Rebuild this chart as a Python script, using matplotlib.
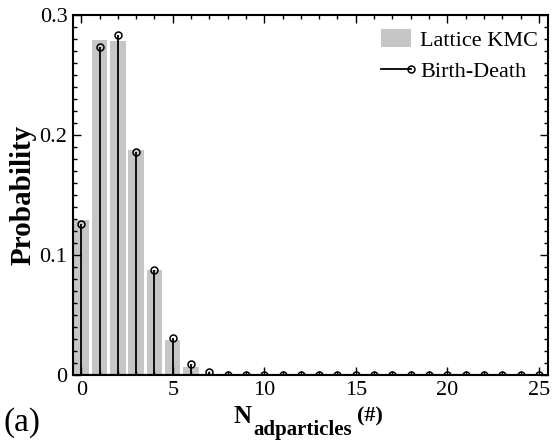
import matplotlib
matplotlib.use("Agg")
import matplotlib.pyplot as plt
from matplotlib.lines import Line2D
from matplotlib.patches import Patch
from matplotlib.legend_handler import HandlerBase
from matplotlib.ticker import MultipleLocator

plt.rcParams["font.family"] = ["Liberation Serif", "DejaVu Serif"]

# Number of adparticles on the surface
n_particles = list(range(26))

# Lattice kinetic Monte Carlo histogram
kmc_prob = [0.129, 0.279, 0.278, 0.1875, 0.0875, 0.029, 0.007, 0.0, 0.0, 0.0,
            0.0, 0.0, 0.0, 0.0, 0.0, 0.0, 0.0, 0.0, 0.0, 0.0,
            0.0, 0.0, 0.0, 0.0, 0.0, 0.0]

# Birth-death master equation distribution
bd_prob = [0.126, 0.2735, 0.2833, 0.186, 0.0875, 0.031, 0.0089, 0.0022, 0.0004, 0.0001,
           0.0, 0.0, 0.0, 0.0, 0.0, 0.0, 0.0, 0.0, 0.0, 0.0,
           0.0, 0.0, 0.0, 0.0, 0.0, 0.0]

bar_color = "#c6c6c6"
marker_style = dict(marker="o", markersize=5, markerfacecolor="none",
                    markeredgecolor="black", markeredgewidth=1.1)


class StemLegendHandler(HandlerBase):
    """Legend key drawn as a line ending in an open circle."""

    def create_artists(self, legend, orig_handle, xdescent, ydescent,
                       width, height, fontsize, trans):
        y = height / 2 - ydescent
        x0, x1 = -xdescent, width - xdescent
        line = Line2D([x0, x1], [y, y], color="black", linewidth=1.3)
        mark = Line2D([x1], [y], linestyle="none", **marker_style)
        line.set_transform(trans)
        mark.set_transform(trans)
        return [line, mark]


W, H = 553, 442
fig = plt.figure(figsize=(W / 100, H / 100), dpi=100)
ax = fig.add_axes([73 / W, 67 / H, 475 / W, 360 / H])

ax.bar(n_particles, kmc_prob, width=0.84, color=bar_color, zorder=1)

markerline, stemlines, baseline = ax.stem(n_particles, bd_prob, basefmt="k-")
plt.setp(stemlines, color="black", linewidth=1.3, zorder=2)
plt.setp(markerline, zorder=3, **marker_style)
plt.setp(baseline, color="black", linewidth=1.5, zorder=2)

ax.set_xlim(-0.45, 25.5)
ax.set_ylim(0, 0.3)
ax.xaxis.set_major_locator(MultipleLocator(5))
ax.xaxis.set_minor_locator(MultipleLocator(1))
ax.yaxis.set_minor_locator(MultipleLocator(0.01))
ax.set_yticks([0, 0.1, 0.2, 0.3])
ax.set_yticklabels(["0", "0.1", "0.2", "0.3"])

ax.tick_params(which="both", direction="in", top=True, right=True,
               labelsize=16, width=1.0, color="black")
ax.tick_params(which="major", length=6, pad=4)
ax.tick_params(which="minor", length=3)
for s in ax.spines.values():
    s.set_linewidth(1.5)

ax.set_ylabel("Probability", fontsize=21, fontweight="bold", labelpad=2)

# x-axis label: symbol, subscript and unit set as separate text pieces
fig.text(234 / W, 19 / H, "N", fontsize=18, fontweight="bold",
         ha="left", va="baseline")
fig.text(253 / W, 7 / H, "adparticles", fontsize=15, fontweight="bold",
         ha="left", va="baseline")
fig.text(357 / W, 21 / H, "(#)", fontsize=16, fontweight="bold",
         ha="left", va="baseline")

fig.text(0.006, 0.008, "(a)", fontsize=24, ha="left", va="bottom")

handles = [
    Patch(facecolor=bar_color, edgecolor="none", label="Lattice KMC"),
    Line2D([], [], color="black", label="Birth-Death"),
]
ax.legend(handles=handles, loc="upper right", frameon=False, fontsize=16,
          bbox_to_anchor=(1.0, 1.0 - 4 / 360), borderaxespad=0.0,
          borderpad=0.45, handlelength=1.35, handleheight=0.85,
          handletextpad=0.4, labelspacing=0.45,
          handler_map={Line2D: StemLegendHandler()})

fig.savefig("out.png", dpi=100)
